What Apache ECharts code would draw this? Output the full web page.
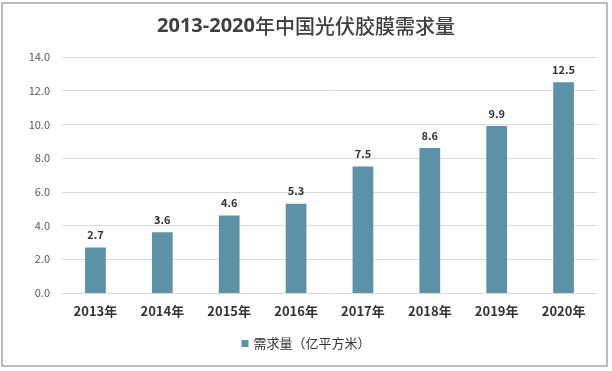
<!DOCTYPE html>
<html><head><meta charset="utf-8">
<script src="https://cdn.jsdelivr.net/npm/echarts@6/dist/echarts.min.js"></script>
<style>html,body{margin:0;padding:0;background:#fff}#c{width:612px;height:371px}</style>
</head><body><div id="c"></div>
<script>
const categories = ['2013年','2014年','2015年','2016年','2017年','2018年','2019年','2020年'];
const demand = [2.7, 3.6, 4.6, 5.3, 7.5, 8.6, 9.9, 12.5];
const seriesName = '需求量（亿平方米）';
const titleYears = '2013-2020';
const titleRest = '年中国光伏胶膜需求量';

const chart = echarts.init(document.getElementById('c'), null, {renderer:'canvas'});
chart.setOption({
  animation:false,
  textStyle:{fontFamily:'"Noto Sans CJK SC", "Open Sans", sans-serif'},
  title:{text:'{a|'+titleYears+'}{b|'+titleRest+'}',left:'center',top:11,
    textStyle:{fontSize:20,color:'#404040',
      rich:{a:{fontSize:20,fontWeight:'bold',color:'#404040',fontFamily:'"Open Sans", sans-serif'},
            b:{fontSize:20,fontWeight:500,color:'#404040',fontFamily:'"Noto Sans CJK SC", sans-serif'}}}},
  graphic:[{type:'rect',shape:{x:2,y:3,width:605,height:363},style:{fill:'none',stroke:'#a6a6a6',lineWidth:1.5},silent:true}],
  grid:{left:62,right:15,top:57,bottom:78},
  legend:{bottom:16,left:'center',itemWidth:7,itemHeight:7,icon:'rect',itemGap:5,
    textStyle:{fontSize:13,color:'#333'},data:[seriesName]},
  xAxis:{type:'category',data:categories,
    axisLine:{show:true,lineStyle:{color:'#d9d9d9'}},axisTick:{show:false},
    axisLabel:{fontSize:13,fontWeight:'bold',color:'#333',margin:12}},
  yAxis:{type:'value',min:0,max:14,interval:2,
    axisLine:{show:false},axisTick:{show:false},
    splitLine:{lineStyle:{color:'#d9d9d9'}},
    axisLabel:{formatter:v=>v.toFixed(1),fontSize:11,color:'#595959',margin:12}},
  series:[{name:seriesName,type:'bar',data:demand,barWidth:'31%',
    itemStyle:{color:'#5B92A7'},
    label:{show:true,position:'top',distance:7,fontSize:11,fontWeight:'bold',color:'#333',formatter:p=>p.value.toFixed(1)}}]
});
</script></body></html>
